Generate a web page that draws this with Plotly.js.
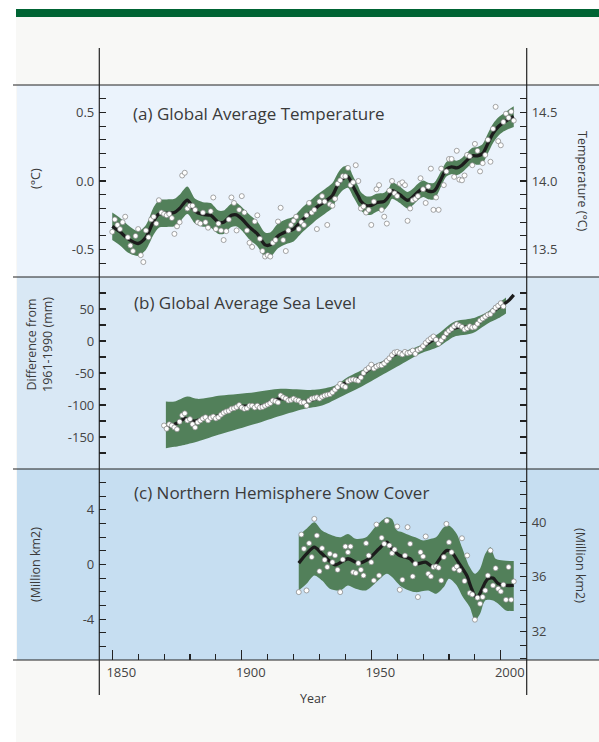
<!DOCTYPE html>
<html><head><meta charset="utf-8">
<script src="https://cdn.plot.ly/plotly-3.0.1.min.js"></script>
<style>html,body{margin:0;padding:0;background:#fff;}#chart{width:599px;height:742px;}</style>
</head><body><div id="chart"></div>
<script>
// ---------- DATA ----------
// (a) Global average temperature anomaly (deg C, vs 1961-1990), annual 1850-2005
const tempFirstYear = 1850;
const tempAnom = [
-0.37,-0.28,-0.32,-0.35,-0.30,-0.26,-0.41,-0.47,-0.51,-0.40,
-0.35,-0.54,-0.59,-0.36,-0.41,-0.28,-0.26,-0.31,-0.14,-0.23,
-0.24,-0.25,-0.24,-0.27,-0.385,-0.33,-0.30,0.04,0.06,-0.20,
-0.18,-0.18,-0.21,-0.30,-0.31,-0.23,-0.30,-0.34,-0.22,-0.12,
-0.35,-0.31,-0.36,-0.43,-0.365,-0.28,-0.12,-0.16,-0.36,-0.21,
-0.11,-0.23,-0.36,-0.45,-0.48,-0.295,-0.25,-0.42,-0.51,-0.55,
-0.54,-0.55,-0.45,-0.43,-0.295,-0.195,-0.43,-0.51,-0.36,-0.32,
-0.29,-0.26,-0.35,-0.30,-0.32,-0.25,-0.16,-0.23,-0.21,-0.35,
-0.15,-0.11,-0.15,-0.32,-0.17,-0.18,-0.13,-0.02,0.005,0.035,
0.035,0.095,-0.03,-0.01,0.115,0.00,-0.20,-0.185,-0.23,-0.21,
-0.32,-0.15,-0.06,-0.03,-0.21,-0.26,-0.31,-0.07,0.00,-0.09,
-0.11,-0.02,-0.01,-0.03,-0.29,-0.20,-0.14,-0.13,-0.11,0.02,
-0.06,-0.16,-0.04,0.09,-0.21,-0.12,-0.21,0.09,-0.03,0.07,
0.16,0.16,0.03,0.22,0.01,0.005,0.04,0.19,0.18,0.115,
0.27,0.22,0.07,0.13,0.19,0.30,0.14,0.38,0.54,0.29,
0.26,0.43,0.49,0.46,0.505,0.44];
const tempSmoothYears = [1850,1853,1856,1860,1863,1866,1868,1871,1874,1876,1879,1882,1885,1888,1891,1893,1896,1898,1900,1903,1906,1909,1911,1914,1917,1920,1923,1926,1929,1932,1935,1937,1939,1941,1943,1945,1946,1948,1950,1952,1955,1957,1958,1961,1964,1966,1968,1970,1972,1974,1975,1977,1979,1981,1983,1985,1987,1989,1991,1993,1995,1997,1999,2001,2003,2005];
const tempSmooth = [-0.33,-0.37,-0.42,-0.455,-0.41,-0.29,-0.24,-0.235,-0.23,-0.20,-0.14,-0.22,-0.244,-0.25,-0.30,-0.30,-0.25,-0.246,-0.275,-0.336,-0.385,-0.465,-0.465,-0.40,-0.37,-0.35,-0.29,-0.24,-0.19,-0.15,-0.105,-0.03,0.017,0.03,-0.04,-0.11,-0.148,-0.178,-0.178,-0.158,-0.148,-0.105,-0.07,-0.10,-0.14,-0.117,-0.08,-0.056,-0.073,-0.075,-0.056,0.017,0.086,0.103,0.095,0.115,0.152,0.183,0.183,0.20,0.273,0.347,0.395,0.425,0.449,0.469];
const tempBandHalf = [0.10,0.10,0.10,0.09,0.09,0.10,0.10,0.10,0.10,0.10,0.10,0.09,0.09,0.09,0.085,0.085,0.085,0.085,0.085,0.09,0.09,0.09,0.09,0.09,0.09,0.09,0.09,0.09,0.09,0.09,0.09,0.085,0.085,0.08,0.075,0.07,0.067,0.067,0.067,0.065,0.062,0.06,0.06,0.06,0.06,0.06,0.06,0.06,0.06,0.06,0.06,0.055,0.053,0.053,0.053,0.053,0.055,0.06,0.065,0.07,0.073,0.07,0.067,0.065,0.07,0.075];

// (b) Global average sea level (mm, vs 1961-1990), annual 1870-2001
const seaFirstYear = 1870;
const seaLevel = [
-132,-137,-130,-132,-135,-138,-126,-116,-113,-124,
-122,-130,-135,-127,-124,-121,-119,-124,-120,-118,
-121,-119,-115,-112,-110,-109,-106,-105,-103,-100,
-104,-106,-105,-101,-101,-104,-101,-104,-103,-101,
-99,-97,-93,-94,-96,-85,-88,-90,-93,-92,
-90,-92,-93,-96,-96,-101,-93,-90,-89,-88,
-90,-87,-85,-84,-83,-80,-76,-72,-67,-70,
-72,-63,-61,-60,-61,-62,-57,-50,-45,-42,
-37,-43,-40,-38,-38,-35,-31,-27,-22,-18,
-17,-19,-21,-17,-19,-18,-15,-20,-14,-12,
-8,-3,1,4,7,2,-4,1,6,12,
16,19,23,26,24,22,18,20,23,21,
22,27,32,35,38,41,42,47,52,55,
59,54];
const seaSmoothYears = [1870,1873,1876,1878,1880,1882,1885,1888,1891,1894,1897,1900,1903,1906,1909,1912,1915,1918,1921,1924,1927,1930,1933,1936,1939,1942,1945,1948,1951,1954,1957,1960,1963,1966,1969,1972,1975,1977,1979,1982,1985,1988,1990,1993,1996,1999,2001,2003,2005];
const seaSmooth = [-134,-132,-126,-121,-124,-125,-121,-119,-117,-110,-105,-102,-102,-102,-100,-93,-90,-91,-92,-95,-92,-88,-84,-76,-68,-62,-59,-48,-40,-36,-27,-19,-18,-17,-12,-3,3,0,10,20,22,21,23,34,42,52,57,63,72];
const seaUpperYears = [1870.7,1874,1879,1883,1892,1905,1915,1928,1936,1941,1949,1956.5,1964,1969,1976,1982,1989,1995,1999,2002];
const seaUpper = [-94.6,-94.6,-86.7,-90.4,-85.2,-79.9,-74.7,-76.3,-69.5,-56.4,-40.7,-27.6,-14.5,-6.6,11.7,30,35.3,45.8,58.9,68];
const seaLowerYears = [1870.7,1874,1879,1883,1892,1905,1915,1924,1931,1938.5,1946,1954,1961.6,1969,1976,1982,1989,1995,1999,2002];
const seaLower = [-167.4,-165.3,-161.1,-156.9,-145.4,-129.7,-116.6,-106.1,-100.9,-86.7,-72,-53.7,-36.5,-19.7,-9.2,6.5,11.9,27.4,35.3,43];

// (c) Northern Hemisphere snow cover anomaly (million km2), annual 1922-2005
const snowFirstYear = 1922;
const snowAnom = [
-2.02,2.19,1.15,-1.90,1.56,0.54,3.34,2.12,-0.49,1.19,
0.34,-0.19,0.78,0.17,0.66,-0.39,-2.02,0.37,1.32,0.90,
1.32,-0.56,-0.63,0.10,-0.39,-0.80,1.56,0.66,0.17,-1.17,
2.92,-0.80,1.95,1.51,3.21,1.39,0.83,1.10,2.78,-1.85,
-1.12,0.66,2.73,1.51,-0.87,0.05,-2.38,0.90,0.59,2.05,
-0.68,-0.87,-0.19,-0.14,-0.24,-1.17,0.54,2.97,1.63,0.90,
-0.31,-0.14,-0.44,1.92,-1.21,0.66,-2.09,-2.19,-4.04,-2.43,
-2.87,-2.38,-1.90,-0.80,1.02,-1.53,-0.27,-1.77,-1.97,-1.48,
-2.58,-0.19,-2.58,-1.24];
const snowSmoothYears = [1922,1925,1928,1931,1936,1941,1945,1949,1953,1956,1958,1961,1965,1967,1971,1974,1976,1979,1981,1984,1987,1988,1989,1990,1991,1992,1994,1995,1997,1999,2002,2005];
const snowSmooth = [0.10,0.78,1.27,0.78,-0.02,0.42,0.10,0.42,1.15,1.63,1.15,0.66,0.42,0.05,0.17,-0.19,0.29,1.02,0.90,0.05,-0.85,-1.4,-1.9,-2.3,-2.4,-2.1,-1.3,-1.05,-1.0,-1.4,-1.53,-1.53];
const snowUpperYears = [1922,1925,1928,1931,1935,1938,1941,1944,1948,1952,1956,1958,1960,1962,1965,1967,1970,1973,1975,1978,1980,1983,1985,1988,1990,1992,1994,1996,1998,2001,2005];
const snowUpper = [2.12,2.61,3.09,2.48,2.12,1.99,2.24,1.88,1.99,2.85,3.46,3.33,2.48,2.36,2.12,1.99,1.75,1.88,1.99,2.73,2.85,2.24,1.27,-0.19,-0.68,-0.31,0.78,1.27,0.42,0.29,0.25];
const snowLowerYears = [1922,1925,1928,1931,1934,1938,1941,1944,1948,1952,1956,1958,1961,1963,1967,1972,1975,1978,1980,1983,1985,1988,1990,1992,1994,1997,1999,2002,2005];
const snowLower = [-1.9,-1.41,-0.80,-1.17,-1.77,-1.9,-1.53,-1.77,-1.9,-1.29,-0.68,-0.92,-1.53,-1.77,-2.02,-1.9,-2.14,-1.65,-1.04,-1.53,-2.26,-3.11,-4.09,-3.6,-2.63,-2.63,-2.87,-3.36,-3.4];

// axis tick values and labels
const xTickYears = [1850, 1900, 1950, 2000];
const xTickText = ['1850', '1900', '1950', '2000'];
const tempTicks = [-0.5, 0, 0.5];
const tempTickText = ['-0.5', '0.0', '0.5'];
const tempAbsTicks = [13.5, 14.0, 14.5];
const tempAbsTickText = ['13.5', '14.0', '14.5'];
const seaTicks = [-150, -100, -50, 0, 50];
const seaTickText = ['-150', '-100', '-50', '0', '50'];
const snowTicks = [-4, 0, 4];
const snowTickText = ['-4', '0', '4'];
const snowAbsTicks = [32, 36, 40];
const snowAbsTickText = ['32', '36', '40'];

// ---------- BUILD ----------
const W = 599, H = 742;
const X0 = 99.3, X1 = 526.7;
const px = v => v / W, py = v => 1 - v / H;
const yearsFrom = (first, n) => Array.from({length: n}, (_, i) => first + i);

const GREEN = '#52805a';
const LINE = '#1c1c1c';
const FONT = 'Open Sans, sans-serif';
const TXT = '#3a3a3a';

function band(xl, yl, xu, yu, ax) {
  return [
    {x: xl, y: yl, yaxis: ax, mode: 'lines', line: {width: 0, shape: 'spline', smoothing: 0.8}, hoverinfo: 'skip'},
    {x: xu, y: yu, yaxis: ax, mode: 'lines', fill: 'tonexty', fillcolor: GREEN, line: {width: 0, shape: 'spline', smoothing: 0.8}, hoverinfo: 'skip'}
  ];
}
function smooth(x, y, ax) {
  return {x: x, y: y, yaxis: ax, mode: 'lines', line: {color: LINE, width: 3.3, shape: 'spline', smoothing: 0.8}, hoverinfo: 'skip'};
}
function dots(x, y, ax) {
  return {x: x, y: y, yaxis: ax, mode: 'markers', marker: {size: 5, color: '#ffffff', line: {color: '#808080', width: 0.7}}, hoverinfo: 'skip'};
}

const tempYears = yearsFrom(tempFirstYear, tempAnom.length);
const tUp = tempSmooth.map((v, i) => v + tempBandHalf[i]);
const tLo = tempSmooth.map((v, i) => v - tempBandHalf[i]);
const seaYears = yearsFrom(seaFirstYear, seaLevel.length);
const snowYears = yearsFrom(snowFirstYear, snowAnom.length);

const data = [
  ...band(tempSmoothYears, tLo, tempSmoothYears, tUp, 'y'),
  smooth(tempSmoothYears, tempSmooth, 'y'),
  dots(tempYears, tempAnom, 'y'),
  ...band(seaLowerYears, seaLower, seaUpperYears, seaUpper, 'y2'),
  smooth(seaSmoothYears, seaSmooth, 'y2'),
  dots(seaYears, seaLevel, 'y2'),
  ...band(snowLowerYears, snowLower, snowUpperYears, snowUpper, 'y3'),
  smooth(snowSmoothYears, snowSmooth, 'y3'),
  dots(snowYears, snowAnom, 'y3'),
  {x: tempYears.slice(0, 1), y: [null], yaxis: 'y4', mode: 'markers', hoverinfo: 'skip'},
  {x: tempYears.slice(0, 1), y: [null], yaxis: 'y5', mode: 'markers', hoverinfo: 'skip'},
  {x: tempYears.slice(0, 1), y: [null], yaxis: 'y6', mode: 'markers', hoverinfo: 'skip'}
];

const tickFont = {family: FONT, size: 13, color: '#444'};
function minorTicks(tick0, dtick) {
  return {tickmode: 'linear', tick0: tick0, dtick: dtick, ticks: 'inside', ticklen: 7, tickwidth: 1.1, tickcolor: '#222'};
}
function yax(extra) {
  return Object.assign({
    anchor: 'x', ticks: 'inside', ticklen: 7, tickwidth: 1.1, tickcolor: '#222', tickmode: 'array',
    showgrid: false, zeroline: false, showline: false, tickfont: tickFont,
    ticklabelstandoff: 4, fixedrange: true
  }, extra);
}

const shapes = [];
function rect(x0, y0, x1, y1, color) {
  shapes.push({type: 'rect', xref: 'paper', yref: 'paper', x0: px(x0), x1: px(x1), y0: py(y1), y1: py(y0), fillcolor: color, line: {width: 0}, layer: 'below'});
}
function hline(y, x0, x1) {
  shapes.push({type: 'line', xref: 'paper', yref: 'paper', x0: px(x0), x1: px(x1), y0: py(y), y1: py(y), line: {color: '#222', width: 1.2}, layer: 'above'});
}
function vline(x, y0, y1) {
  shapes.push({type: 'line', xref: 'paper', yref: 'paper', x0: px(x), x1: px(x), y0: py(y0), y1: py(y1), line: {color: '#222', width: 1.2}, layer: 'above'});
}
rect(16, 17, 599, 742, '#f8f8f6');
rect(16, 9, 599, 17, '#006434');
rect(17, 85, 599, 277, '#ebf3fc');
rect(17, 277, 599, 469, '#d9e8f5');
rect(17, 469, 599, 660, '#c6def1');
[85, 277, 469, 660].forEach(y => hline(y, 13, 599));
vline(X0, 48, 695);
vline(X1, 48, 695);

function ann(text, x, y, opts) {
  return Object.assign({text: text, xref: 'paper', yref: 'paper', x: px(x), y: py(y), showarrow: false,
    xanchor: 'center', yanchor: 'middle', font: {family: FONT, size: 12.5, color: TXT}}, opts || {});
}
const titleFont = {family: FONT, size: 17, color: TXT};
const annotations = [
  ann('(a) Global Average Temperature', 131, 113, {xanchor: 'left', font: titleFont}),
  ann('(b) Global Average Sea Level', 132, 303, {xanchor: 'left', font: titleFont}),
  ann('(c) Northern Hemisphere Snow Cover', 131.5, 492, {xanchor: 'left', font: titleFont}),
  ann('(°C)', 35, 179, {textangle: -90}),
  ann('Temperature (°C)', 582, 181, {textangle: 90}),
  ann('Difference from<br>1961-1990 (mm)', 40, 345, {textangle: -90}),
  ann('(Million km2)', 35, 565, {textangle: -90}),
  ann('(Million km2)', 581, 565, {textangle: 90}),
  ann('Year', 313, 698)
];

const layout = {
  width: W, height: H, margin: {l: 0, r: 0, t: 0, b: 0},
  paper_bgcolor: '#ffffff', plot_bgcolor: 'rgba(0,0,0,0)', showlegend: false,
  font: {family: FONT, color: TXT},
  xaxis: {
    domain: [px(X0), px(X1)], range: [1845, 2010], anchor: 'y3',
    tickmode: 'array', tickvals: xTickYears, ticktext: xTickText,
    ticks: 'inside', ticklen: 10, tickwidth: 1.1, tickcolor: '#222',
    minor: {tickmode: 'linear', dtick: 10, tick0: 1850, ticks: 'inside', ticklen: 6, tickwidth: 1.1, tickcolor: '#222'},
    showgrid: false, zeroline: false, showline: false, tickfont: tickFont,
    ticklabelshift: 9, ticklabelstandoff: 3, fixedrange: true
  },
  yaxis: yax({domain: [py(277), py(85)], range: [-0.699, 0.699], tickvals: tempTicks, ticktext: tempTickText, minor: minorTicks(0, 0.1)}),
  yaxis2: yax({domain: [py(469), py(277)], range: [-199.9, 99.9], tickvals: seaTicks, ticktext: seaTickText, minor: minorTicks(0, 25)}),
  yaxis3: yax({domain: [py(660), py(469)], range: [-6.99, 6.99], tickvals: snowTicks, ticktext: snowTickText, minor: minorTicks(0, 1)}),
  yaxis4: yax({overlaying: 'y', side: 'right', range: [13.301, 14.699], tickvals: tempAbsTicks, ticktext: tempAbsTickText, minor: minorTicks(13.5, 0.1)}),
  yaxis5: yax({overlaying: 'y2', side: 'right', range: [-199.9, 99.9], tickvals: seaTicks, showticklabels: false, minor: minorTicks(0, 25)}),
  yaxis6: yax({overlaying: 'y3', side: 'right', range: [29.91, 43.89], tickvals: snowAbsTicks, ticktext: snowAbsTickText, minor: minorTicks(32, 1)}),
  shapes: shapes,
  annotations: annotations
};

Plotly.newPlot('chart', data, layout, {displayModeBar: false, staticPlot: true});
</script>
</body></html>
